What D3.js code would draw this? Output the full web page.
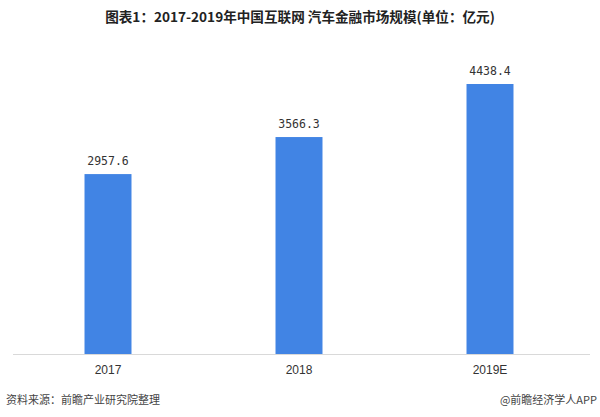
<!DOCTYPE html>
<html><head><meta charset="utf-8">
<script src="https://cdn.jsdelivr.net/npm/d3@7"></script>
<style>body{margin:0;background:#fff;}svg{display:block;font-family:"Noto Sans CJK SC","Liberation Sans",sans-serif;}</style>
</head><body><svg id="c" width="600" height="417"></svg>
<script>
const categories = ["2017", "2018", "2019E"];
const values = [2957.6, 3566.3, 4438.4];
const valueLabels = ["2957.6", "3566.3", "4438.4"];
const title = "图表1：2017-2019年中国互联网 汽车金融市场规模(单位：亿元)";
const source = "资料来源：前瞻产业研究院整理";
const credit = "@前瞻经济学人APP";

const svg = d3.select("#c");
const baseY = 354;
const x = d3.scaleBand().domain(categories).range([12.5, 585.5]).paddingInner(0.754).paddingOuter(0.377);
const y = d3.scaleLinear().domain([0, 4438.4]).range([baseY, 84]);

svg.append("text").attr("x", 300).attr("y", 22).attr("text-anchor", "middle")
  .attr("font-size", 13.6).attr("font-weight", "bold").attr("fill", "#222").text(title);

svg.append("line").attr("x1", 13).attr("x2", 590).attr("y1", baseY + 0.5).attr("y2", baseY + 0.5)
  .attr("stroke", "#d9d9d9").attr("stroke-width", 1);

svg.selectAll("rect.bar").data(values).enter().append("rect").attr("class", "bar")
  .attr("x", (d, i) => x(categories[i])).attr("width", x.bandwidth())
  .attr("y", d => y(d)).attr("height", d => baseY - y(d)).attr("fill", "#4184e4");

svg.selectAll("text.val").data(values).enter().append("text").attr("class", "val")
  .attr("x", (d, i) => x(categories[i]) + x.bandwidth() / 2).attr("y", d => y(d) - 9)
  .attr("text-anchor", "middle").attr("font-size", 11.5).attr("fill", "#333")
  .attr("font-family", "DejaVu Sans Mono, monospace")
  .text((d, i) => valueLabels[i]);

const xAxis = d3.axisBottom(x).tickSize(0).tickPadding(10);
const ax = svg.append("g").attr("transform", `translate(0,${baseY + 1})`).call(xAxis);
ax.select(".domain").remove();
ax.selectAll("text").attr("font-size", 12).attr("fill", "#333").attr("font-family", "Liberation Sans, sans-serif");

svg.append("text").attr("x", 6).attr("y", 404).attr("font-size", 11).attr("fill", "#444").text(source);
svg.append("text").attr("x", 597).attr("y", 404).attr("text-anchor", "end").attr("font-size", 11).attr("fill", "#444").text(credit);
</script></body></html>
